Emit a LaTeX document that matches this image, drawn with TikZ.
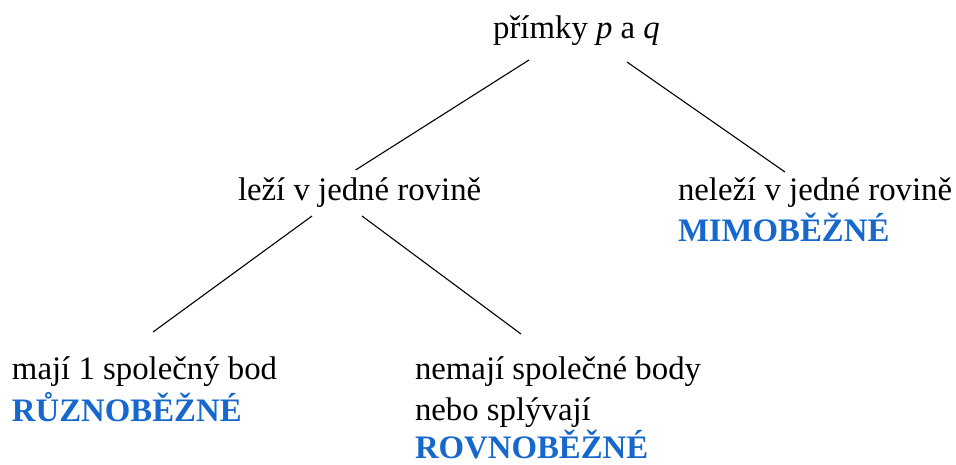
\documentclass[tikz,border=0pt]{standalone}
\usepackage{fontspec}
\setmainfont{Liberation Serif}
\definecolor{kindblue}{RGB}{22,104,204}
\begin{document}
\begin{tikzpicture}[x=1pt,y=-1pt,
  txt/.style={inner sep=0pt,outer sep=0pt,font=\fontsize{32.8}{39}\selectfont},
  kind/.style={txt,text=kindblue,font=\fontsize{32.8}{39}\selectfont\bfseries},
  branch/.style={line width=1.1pt,black}]
\useasboundingbox (0,0) rectangle (956,464);

% root
\node[txt,anchor=base] (top) at (576.5,38) {přímky \textit{p} a \textit{q}};

% second level
\node[txt,anchor=base west] (lezi) at (238,200) {leží v jedné rovině};
\node[txt,anchor=base west] (nelezi) at (678,200) {neleží v jedné rovině};
\node[kind,anchor=base west] (mimo) at (678,241) {MIMOBĚŽNÉ};

% third level
\node[txt,anchor=base west] (maji) at (12,379) {mají 1 společný bod};
\node[kind,anchor=base west] (ruzno) at (12,421) {RŮZNOBĚŽNÉ};
\node[txt,anchor=base west] (nemaji) at (415,379) {nemají společné body};
\node[txt,anchor=base west] (splyv) at (415,420) {nebo splývají};
\node[kind,anchor=base west] (rovno) at (415,458.5) {ROVNOBĚŽNÉ};

% branches
\draw[branch] ([shift={(-47.5,22)}]top.base) -- ([shift={(-4,-30)}]lezi.base);
\draw[branch] ([shift={(50.5,24)}]top.base) -- ([shift={(107,-28)}]nelezi.base west);
\draw[branch] ([shift={(74,16)}]lezi.base west) -- ([shift={(141,-47)}]maji.base west);
\draw[branch] ([shift={(124,16)}]lezi.base west) -- ([shift={(106,-45)}]nemaji.base west);
\end{tikzpicture}
\end{document}
